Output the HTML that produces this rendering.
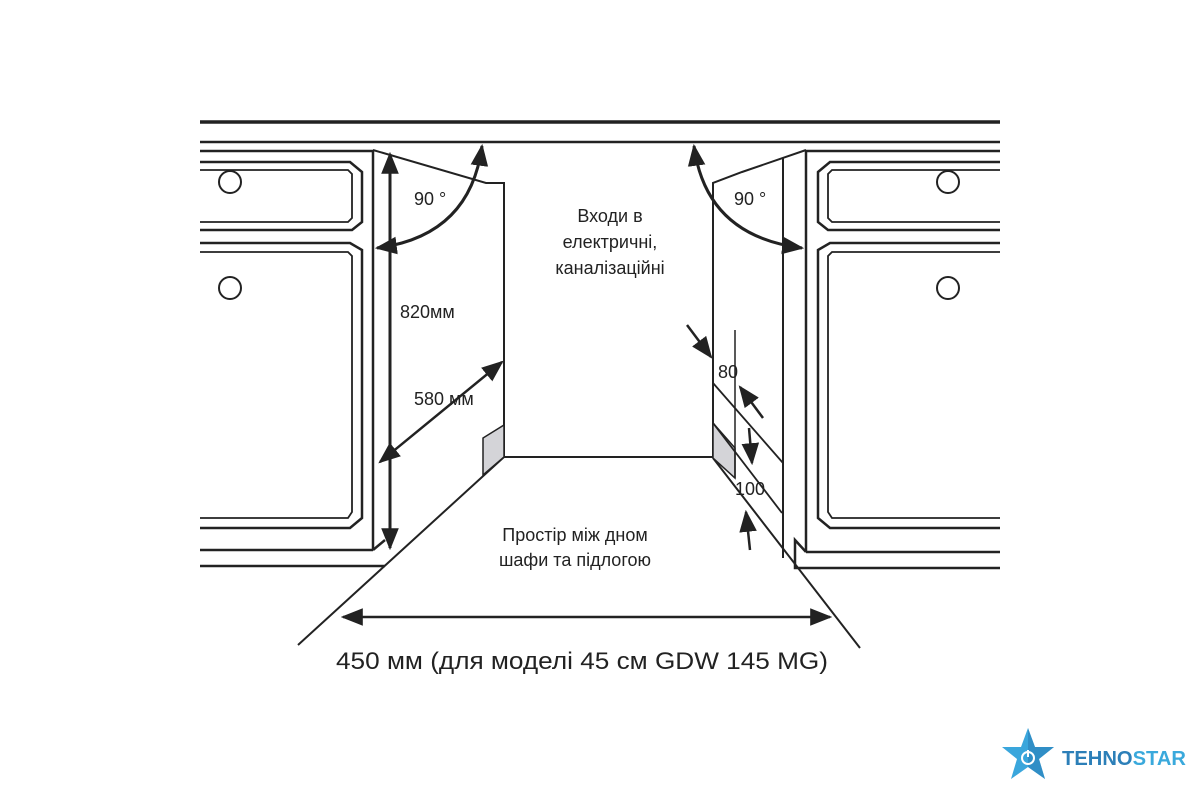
<!DOCTYPE html>
<html><head><meta charset="utf-8"><style>
html,body{margin:0;padding:0;background:#fff;}
svg{display:block;}
text{font-family:"Liberation Sans","DejaVu Sans",sans-serif;fill:#222;}
</style></head><body>
<svg width="1200" height="800" viewBox="0 0 1200 800" xmlns="http://www.w3.org/2000/svg">
<defs>
<marker id="ab" viewBox="0 0 10 10" refX="9" refY="5" markerWidth="22" markerHeight="22" orient="auto-start-reverse" markerUnits="userSpaceOnUse">
<path d="M0,1 L10,5 L0,9 z" fill="#222"/></marker>
</defs>
<g stroke="#222" fill="none" stroke-width="2.5">
<line x1="200" y1="122" x2="1000" y2="122" stroke-width="3.5"/>
<line x1="200" y1="142" x2="1000" y2="142"/>
<line x1="200" y1="151" x2="373" y2="151"/>
<line x1="373" y1="151" x2="373" y2="550"/>
<line x1="200" y1="550" x2="373" y2="550"/>
<line x1="200" y1="566" x2="385" y2="566"/>
<line x1="373" y1="550" x2="385" y2="540"/>
<path d="M200 162 H350 L362 172 V222 L352 230 H200"/>
<path d="M200 170 H348 L352 174 V218 L348 222 H200" stroke-width="1.8"/>
<path d="M200 243 H350 L362 250 V518 L350 528 H200"/>
<path d="M200 252 H348 L352 256 V512 L348 518 H200" stroke-width="1.8"/>
<circle cx="230" cy="182" r="11" stroke-width="2"/>
<circle cx="230" cy="288" r="11" stroke-width="2"/>
<line x1="806" y1="151" x2="1000" y2="151"/>
<line x1="806" y1="151" x2="806" y2="552"/>
<line x1="783" y1="158" x2="783" y2="558" stroke-width="2"/>
<line x1="806" y1="552" x2="1000" y2="552"/>
<path d="M1000 568 H795 V540 L806 552"/>
<path d="M1000 162 H830 L818 172 V222 L828 230 H1000"/>
<path d="M1000 170 H832 L828 174 V218 L832 222 H1000" stroke-width="1.8"/>
<path d="M1000 243 H830 L818 250 V518 L830 528 H1000"/>
<path d="M1000 252 H832 L828 256 V512 L832 518 H1000" stroke-width="1.8"/>
<circle cx="948" cy="182" r="11" stroke-width="2"/>
<circle cx="948" cy="288" r="11" stroke-width="2"/>
<path d="M373 150 L486 183 H504 V457 H713 V183 L742 172 L806 150" stroke-width="2"/>
<line x1="504" y1="457" x2="298" y2="645" stroke-width="2"/>
<line x1="713" y1="458" x2="860" y2="648" stroke-width="2"/>
<path d="M483 475 L483 438 L504 425 L504 457 Z" fill="#d4d4d8" stroke-width="1.5"/>
<path d="M713 423 L735 448 L735 478 L713 458 Z" fill="#d4d4d8" stroke-width="1.5"/>
<line x1="713" y1="383" x2="783" y2="463" stroke-width="1.8"/>
<line x1="713" y1="423" x2="782" y2="513" stroke-width="1.8"/>
<line x1="735" y1="330" x2="735" y2="478" stroke-width="1.5"/>
<line x1="390" y1="154" x2="390" y2="548" stroke-width="3" marker-start="url(#ab)" marker-end="url(#ab)"/>
<path d="M377 248 Q470 236 482 146" stroke-width="3" marker-start="url(#ab)" marker-end="url(#ab)"/>
<path d="M694 146 Q706 236 802 248" stroke-width="3" marker-start="url(#ab)" marker-end="url(#ab)"/>
<line x1="380" y1="462" x2="502" y2="362" stroke-width="2.5" marker-start="url(#ab)" marker-end="url(#ab)"/>
<line x1="343" y1="617" x2="830" y2="617" stroke-width="2.5" marker-start="url(#ab)" marker-end="url(#ab)"/>
<line x1="687" y1="325" x2="711" y2="357" stroke-width="2.5" marker-end="url(#ab)"/>
<line x1="763" y1="418" x2="740" y2="387" stroke-width="2.5" marker-end="url(#ab)"/>
<line x1="749" y1="428" x2="752" y2="463" stroke-width="2.5" marker-end="url(#ab)"/>
<line x1="750" y1="550" x2="746" y2="512" stroke-width="2.5" marker-end="url(#ab)"/>
</g>
<g font-size="18">
<text x="414" y="205">90 °</text>
<text x="734" y="205">90 °</text>
<text x="400" y="318">820мм</text>
<text x="414" y="405">580 мм</text>
<text x="718" y="378">80</text>
<text x="735" y="495">100</text>
<text x="610" y="222" text-anchor="middle">Входи в</text>
<text x="610" y="248" text-anchor="middle">електричні,</text>
<text x="610" y="274" text-anchor="middle">каналізаційні</text>
<text x="575" y="541" text-anchor="middle">Простір між дном</text>
<text x="575" y="566" text-anchor="middle">шафи та підлогою</text>
</g>
<text x="582" y="669" font-size="24" text-anchor="middle" textLength="492" lengthAdjust="spacingAndGlyphs">450 мм (для моделі 45 см GDW 145 MG)</text>
<g transform="translate(1028,755)">
<path d="M0,-27 L7,-8 L26,-8 L11,4 L17,24 L0,12 L-17,24 L-11,4 L-26,-8 L-7,-8 Z" fill="#3aa6dc"/>
<path d="M0,-27 L7,-8 L26,-8 L11,4 L17,24 L0,12 Z" fill="#2a7fb8" opacity="0.6"/>
<circle cx="0" cy="3" r="6" fill="none" stroke="#fff" stroke-width="2"/>
<line x1="0" y1="-5" x2="0" y2="2" stroke="#fff" stroke-width="2"/>
</g>
<text x="1062" y="765" font-size="20" font-weight="bold" textLength="124" lengthAdjust="spacingAndGlyphs" style="fill:#2c7fb8">TEHNO<tspan style="fill:#3aa9dc">STAR</tspan></text>
</svg>
</body></html>
